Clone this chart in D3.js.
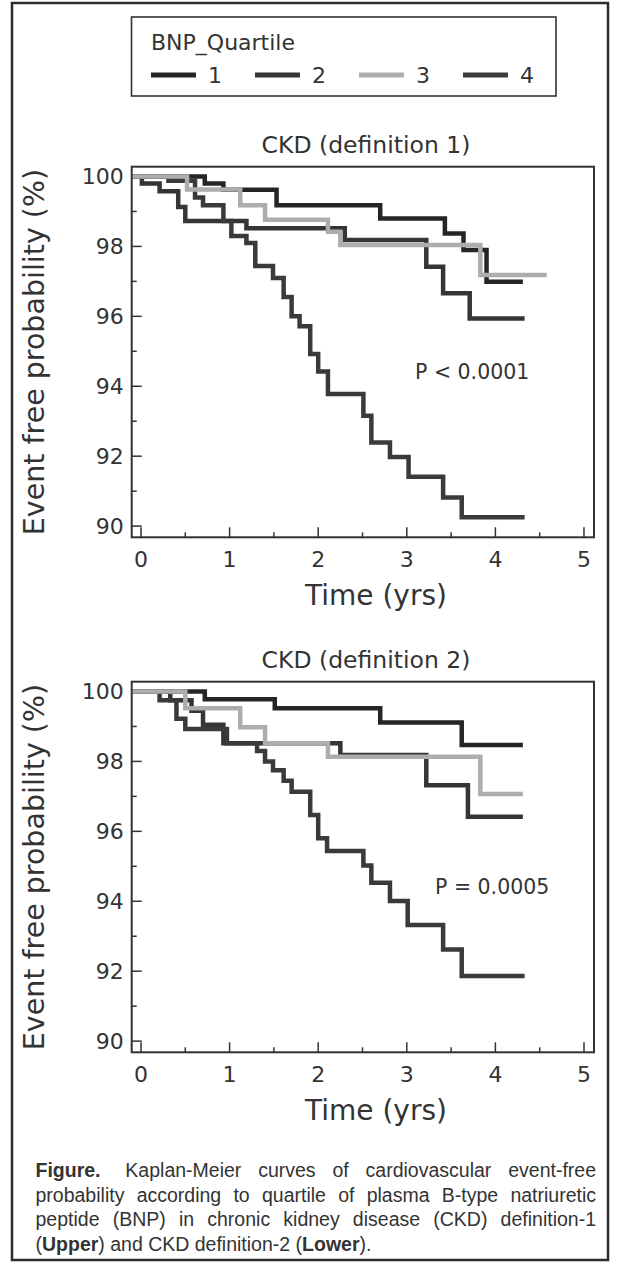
<!DOCTYPE html>
<html>
<head>
  <meta charset="UTF-8" />
  <script src="https://d3js.org/d3.v7.min.js"></script>
  <style>
    body { margin: 0; background: #fff; }
    text { font-family: "DejaVu Sans", sans-serif; fill: #333; }
  </style>
</head>
<body>
<script>
  // ---------------- data ----------------
  var quartiles = ["1", "2", "3", "4"];
  var quartileColors = ["#252525", "#353535", "#adadad", "#3a3a3a"];
  var xTicks = [0, 1, 2, 3, 4, 5];
  var yTicks = [90, 92, 94, 96, 98, 100];
  var panelTitles = ["CKD (definition 1)", "CKD (definition 2)"];
  var pValues = ["P < 0.0001", "P = 0.0005"];

  // [time (yrs), event free probability (%)], last point = end of follow-up
  var def1Q1 = [[0, 100], [0.72, 99.8], [0.93, 99.62], [1.53, 99.18], [2.70, 98.80], [3.43, 98.37], [3.64, 97.90], [3.90, 96.99], [4.31, 96.99]];
  var def1Q2 = [[0, 100], [0.01, 99.8], [0.21, 99.58], [0.42, 99.13], [0.50, 98.73], [1.19, 98.52], [2.30, 98.18], [3.22, 97.42], [3.41, 96.66], [3.71, 95.94], [4.33, 95.94]];
  var def1Q3 = [[0, 100], [0.52, 99.63], [1.12, 99.18], [1.40, 98.76], [2.11, 98.42], [2.25, 98.04], [3.83, 97.18], [4.58, 97.18]];
  var def1Q4 = [[0, 100], [0.31, 99.88], [0.61, 99.40], [0.70, 99.18], [0.93, 98.73], [1.02, 98.30], [1.19, 98.10], [1.29, 97.44], [1.49, 97.10], [1.61, 96.55], [1.70, 96.0], [1.79, 95.72], [1.91, 94.92], [2.0, 94.42], [2.11, 93.78], [2.51, 93.16], [2.60, 92.39], [2.81, 91.98], [3.02, 91.41], [3.41, 90.82], [3.62, 90.25], [4.33, 90.25]];

  var def2Q1 = [[0, 100], [0.72, 99.78], [1.51, 99.52], [2.70, 99.11], [3.62, 98.47], [4.31, 98.47]];
  var def2Q2 = [[0, 100], [0.33, 99.75], [0.57, 99.45], [0.70, 99.05], [0.93, 98.52], [2.25, 98.18], [3.22, 97.32], [3.69, 96.42], [4.31, 96.42]];
  var def2Q3 = [[0, 100], [0.50, 99.52], [1.12, 98.98], [1.40, 98.52], [2.11, 98.13], [3.83, 97.07], [4.31, 97.07]];
  var def2Q4 = [[0, 100], [0.21, 99.75], [0.40, 99.22], [0.50, 98.93], [0.97, 98.52], [1.31, 98.3], [1.40, 98.0], [1.49, 97.75], [1.61, 97.45], [1.70, 97.13], [1.91, 96.47], [2.0, 95.80], [2.10, 95.44], [2.51, 95.02], [2.60, 94.53], [2.81, 94.01], [3.01, 93.32], [3.41, 92.62], [3.62, 91.86], [4.33, 91.86]];

  var panelCurves = [
    [def1Q1, def1Q2, def1Q3, def1Q4],
    [def2Q1, def2Q2, def2Q3, def2Q4]
  ];

  var captionLines = [
    "Figure. Kaplan-Meier curves of cardiovascular event-free",
    "probability according to quartile of plasma B-type natriuretic",
    "peptide (BNP) in chronic kidney disease (CKD) definition-1",
    "(Upper) and CKD definition-2 (Lower)."
  ];
  var boldWords = ["Figure.", "Upper", "Lower"];

  // ---------------- layout ----------------
  var W = 619, H = 1262;
  var plot = { left: 131.7, right: 594, top: 166.7, bottom: 537.3 };
  var panelStep = 515;
  var pTextX = [415, 435];

  var svg = d3.select("body").append("svg")
    .attr("width", W)
    .attr("height", H);

  // outer figure border
  svg.append("rect")
    .attr("x", 12).attr("y", 3)
    .attr("width", 596).attr("height", 1257)
    .attr("fill", "none")
    .attr("stroke", "#2b2b2b")
    .attr("stroke-width", 2.5);

  var x = d3.scaleLinear().domain([-0.105, 5.113]).range([plot.left, plot.right]);
  var y = d3.scaleLinear().domain([89.68, 100.28]).range([plot.bottom, plot.top]);

  var line = d3.line()
    .x(function (d) { return x(d[0]); })
    .y(function (d) { return y(d[1]); })
    .curve(d3.curveStepAfter);

  // ---------------- legend ----------------
  var legend = svg.append("g");
  legend.append("rect")
    .attr("x", 131.5).attr("y", 17)
    .attr("width", 424.5).attr("height", 79)
    .attr("fill", "none")
    .attr("stroke", "#333")
    .attr("stroke-width", 1.6);
  legend.append("text")
    .attr("x", 151).attr("y", 50)
    .style("font-size", "22px")
    .text("BNP_Quartile");

  var legendX = [151, 255, 359, 463];
  quartiles.forEach(function (q, i) {
    legend.append("line")
      .attr("x1", legendX[i]).attr("x2", legendX[i] + 45)
      .attr("y1", 75).attr("y2", 75)
      .attr("stroke", quartileColors[i])
      .attr("stroke-width", 5);
    legend.append("text")
      .attr("x", legendX[i] + 57).attr("y", 83)
      .style("font-size", "22px")
      .text(q);
  });

  // ---------------- panels ----------------
  panelCurves.forEach(function (curves, p) {
    var g = svg.append("g")
      .attr("transform", "translate(0," + (p * panelStep) + ")");

    g.append("text")
      .attr("x", 366).attr("y", 153)
      .attr("text-anchor", "middle")
      .style("font-size", "23.5px")
      .text(panelTitles[p]);

    // ticks inside the frame
    var yMinor = d3.range(91, 100, 2);
    var xMinor = d3.range(0.5, 5, 1);

    g.selectAll(".ytick").data(yTicks).enter().append("line")
      .attr("x1", plot.left).attr("x2", plot.left + 10)
      .attr("y1", function (d) { return y(d); })
      .attr("y2", function (d) { return y(d); })
      .attr("stroke", "#333").attr("stroke-width", 1.5);
    g.selectAll(".yminor").data(yMinor).enter().append("line")
      .attr("x1", plot.left).attr("x2", plot.left + 5)
      .attr("y1", function (d) { return y(d); })
      .attr("y2", function (d) { return y(d); })
      .attr("stroke", "#333").attr("stroke-width", 1.5);
    g.selectAll(".xtick").data(xTicks).enter().append("line")
      .attr("x1", function (d) { return x(d); })
      .attr("x2", function (d) { return x(d); })
      .attr("y1", plot.bottom).attr("y2", plot.bottom - 10)
      .attr("stroke", "#333").attr("stroke-width", 1.5);
    g.selectAll(".xminor").data(xMinor).enter().append("line")
      .attr("x1", function (d) { return x(d); })
      .attr("x2", function (d) { return x(d); })
      .attr("y1", plot.bottom).attr("y2", plot.bottom - 5)
      .attr("stroke", "#333").attr("stroke-width", 1.5);

    g.selectAll(".ylab").data(yTicks).enter().append("text")
      .attr("x", plot.left - 8)
      .attr("y", function (d) { return y(d); })
      .attr("dy", "0.36em")
      .attr("text-anchor", "end")
      .style("font-size", "22px")
      .text(function (d) { return d; });
    g.selectAll(".xlab").data(xTicks).enter().append("text")
      .attr("x", function (d) { return x(d); })
      .attr("y", plot.bottom + 30)
      .attr("text-anchor", "middle")
      .style("font-size", "22px")
      .text(function (d) { return d; });

    // curves: quartile 3 (light grey) drawn last
    [0, 1, 3, 2].forEach(function (i) {
      var pts = [[x.domain()[0], 100]].concat(curves[i]);
      g.append("path")
        .attr("d", line(pts))
        .attr("fill", "none")
        .attr("stroke", quartileColors[i])
        .attr("stroke-width", 4.5)
        .attr("stroke-linejoin", "miter")
        .attr("stroke-linecap", "butt");
    });

    // frame
    g.append("rect")
      .attr("x", plot.left).attr("y", plot.top)
      .attr("width", plot.right - plot.left)
      .attr("height", plot.bottom - plot.top)
      .attr("fill", "none")
      .attr("stroke", "#333")
      .attr("stroke-width", 2);

    g.append("text")
      .attr("x", pTextX[p]).attr("y", 379)
      .style("font-size", "20.5px")
      .text(pValues[p]);

    g.append("text")
      .attr("x", 376).attr("y", 605)
      .attr("text-anchor", "middle")
      .style("font-size", "28px")
      .text("Time (yrs)");

    g.append("text")
      .attr("transform", "translate(44," + ((plot.top + plot.bottom) / 2) + ") rotate(-90)")
      .attr("text-anchor", "middle")
      .style("font-size", "28.5px")
      .text("Event free probability (%)");
  });

  // ---------------- caption ----------------
  var capLeft = 35.5, capRight = 596, capY = 1177, capStep = 24.5;
  var cap = svg.append("g")
    .style("font-size", "19.5px");

  captionLines.forEach(function (ln, li) {
    var words = ln.split(" ");
    var yy = capY + li * capStep;
    var last = li === captionLines.length - 1;
    var nodes = words.map(function (w) {
      var t = cap.append("text").attr("y", yy)
        .style("font-family", "'Liberation Sans', Arial, sans-serif");
      if (w === "Figure.") {
        t.style("font-family", "'Liberation Sans Narrow', 'Liberation Sans', sans-serif")
          .style("font-weight", "bold").text(w);
      } else {
        w.split(/(Upper|Lower)/).forEach(function (part) {
          if (!part) return;
          t.append("tspan")
            .style("font-weight", boldWords.indexOf(part) >= 0 ? "bold" : "normal")
            .text(part);
        });
      }
      return t;
    });
    var widths = nodes.map(function (t) { return t.node().getComputedTextLength(); });
    var total = d3.sum(widths);
    // first line keeps a wider gap after "Figure."
    var lead = li === 0 ? 8 : 0;
    var gap = last ? 5.4 : (capRight - capLeft - total - lead) / (words.length - 1);
    var cx = capLeft;
    nodes.forEach(function (t, k) {
      t.attr("x", cx);
      cx += widths[k] + gap + (k === 0 ? lead : 0);
    });
  });
</script>
</body>
</html>
